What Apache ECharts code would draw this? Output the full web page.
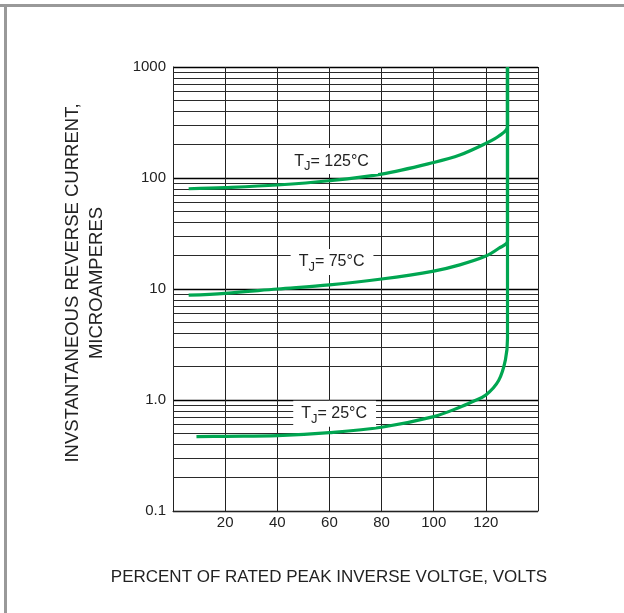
<!DOCTYPE html>
<html><head><meta charset="utf-8">
<script src="https://cdn.jsdelivr.net/npm/echarts@6/dist/echarts.min.js"></script>
<style>html,body{margin:0;padding:0;background:#fff}#c{width:624px;height:613px}</style>
</head><body><div id="c"></div>
<script>
// Axis ticks
const xTicks = [0, 20, 40, 60, 80, 100, 120, 140];
const xTickLabels = ['', '20', '40', '60', '80', '100', '120', ''];
const yTicks = [0.1, 1, 10, 100, 1000];
const yTickLabels = ['0.1', '1.0', '10', '100', '1000'];
// log-paper minor grid values (2..9 in each decade)
const minorGrid = [0.2,0.3,0.4,0.5,0.6,0.7,0.8,0.9, 2,3,4,5,6,7,8,9, 20,30,40,50,60,70,80,90, 200,300,400,500,600,700,800,900];

// Series: Tj = 125 C
const t125X = [6, 20, 40, 60, 80, 100, 110, 120, 125, 128.3, 128.3];
const t125Y = [80, 82, 86.5, 94.5, 108.5, 138, 161, 205, 239, 290, 1000];
// Series: Tj = 75 C
const t75X = [6, 20, 40, 60, 80, 100, 110, 120, 125, 128.3, 128.3];
const t75Y = [8.8, 9.15, 10, 10.9, 12.3, 14.5, 16.5, 19.8, 23.3, 27, 1000];
// Series: Tj = 25 C
const t25X = [9, 20, 40, 60, 80, 100, 110, 115, 120, 124.9, 127.5, 128.3, 128.3];
const t25Y = [0.467, 0.471, 0.478, 0.508, 0.568, 0.708, 0.86, 0.97, 1.11, 1.5, 2.3, 3.6, 1000];

const seriesNames = ['125', '75', '25'];
const labelAnchors = [[61, 142], [61, 17.5], [62, 0.75]];

const FONT = 'Liberation Sans, Arial, Helvetica, sans-serif';
const GREEN = '#00a651';

function pairs(xs, ys) { return xs.map((x, i) => [x, ys[i]]); }

function curve(name, xs, ys, anchor) {
  return {
    name: name, type: 'line', data: pairs(xs, ys), showSymbol: false, symbol: 'none',
    smooth: 0.35, z: 5,
    lineStyle: { color: GREEN, width: 3.2 },
    markPoint: {
      symbol: 'rect', symbolSize: 1, silent: true, z: 6,
      itemStyle: { color: 'rgba(0,0,0,0)' },
      data: [{ coord: anchor }],
      label: {
        show: true, position: 'inside',
        formatter: '{t|T}{s|J}{t|= ' + name + '°C}',
        backgroundColor: '#fff', padding: [2, 9, 2, 8],
        rich: {
          t: { fontSize: 16, fontFamily: FONT, color: '#222', lineHeight: 22 },
          s: { fontSize: 13, fontFamily: FONT, color: '#222', lineHeight: 14, padding: [11, 0, 0, 0], verticalAlign: 'middle' }
        }
      }
    }
  };
}

const chart = echarts.init(document.getElementById('c'), null, { renderer: 'canvas' });
chart.setOption({
  animation: false,
  backgroundColor: '#fff',
  grid: { left: 173, right: 86, top: 67, bottom: 102, containLabel: false },
  xAxis: {
    type: 'value', min: 0, max: 140, interval: 20,
    axisLine: { show: true, lineStyle: { color: '#222', width: 1 } },
    axisTick: { show: false },
    splitLine: { show: true, lineStyle: { color: '#222', width: 1 } },
    axisLabel: {
      margin: 4, fontSize: 15, fontFamily: FONT, color: '#222',
      formatter: v => { const i = xTicks.indexOf(v); return i >= 0 ? xTickLabels[i] : ''; }
    },
    name: 'PERCENT OF RATED PEAK INVERSE VOLTGE, VOLTS',
    nameLocation: 'middle', nameGap: 58,
    nameTextStyle: { fontSize: 17, fontFamily: FONT, color: '#222', padding: [0, 53, 0, 0] }
  },
  yAxis: {
    type: 'log', logBase: 10, min: 0.1, max: 1000,
    axisLine: { show: true, lineStyle: { color: '#222', width: 1 } },
    axisTick: { show: false },
    splitLine: { show: true, lineStyle: { color: '#000', width: 1.3 } },
    minorTick: { show: false }, minorSplitLine: { show: false },
    axisLabel: {
      margin: 7, fontSize: 15, fontFamily: FONT, color: '#222',
      formatter: v => {
        for (let i = 0; i < yTicks.length; i++) {
          if (Math.abs(Math.log10(v) - Math.log10(yTicks[i])) < 1e-6) return yTickLabels[i];
        }
        return '';
      }
    },
    name: 'INVSTANTANEOUS REVERSE CURRENT,\nMICROAMPERES',
    nameLocation: 'middle', nameRotate: 90, nameGap: 64,
    nameTextStyle: { fontSize: 18.5, fontFamily: FONT, color: '#222', lineHeight: 24, padding: [0, 0, 0, 12] }
  },
  series: [
    {
      type: 'line', data: [], z: 1, silent: true,
      markLine: {
        silent: true, symbol: ['none', 'none'], animation: false,
        label: { show: false },
        lineStyle: { color: '#2a2a2a', width: 1, type: 'solid' },
        data: minorGrid.map(v => ({ yAxis: v }))
      }
    },
    curve(seriesNames[0], t125X, t125Y, labelAnchors[0]),
    curve(seriesNames[1], t75X, t75Y, labelAnchors[1]),
    curve(seriesNames[2], t25X, t25Y, labelAnchors[2])
  ],
  graphic: [
    { type: 'line', shape: { x1: 0, y1: 5.5, x2: 624, y2: 5.5 }, style: { stroke: '#999', lineWidth: 3 } },
    { type: 'line', shape: { x1: 5.5, y1: 4, x2: 5.5, y2: 613 }, style: { stroke: '#999', lineWidth: 3 } }
  ]
});
</script></body></html>
